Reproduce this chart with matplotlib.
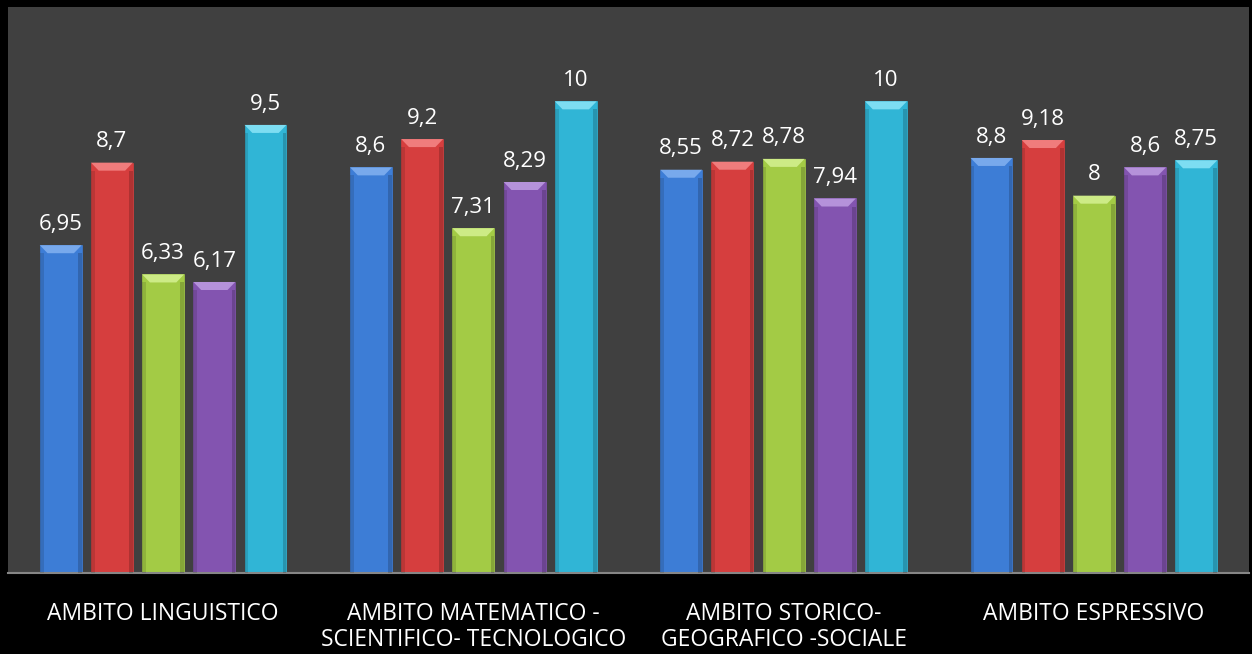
import matplotlib
matplotlib.use("Agg")
import matplotlib.pyplot as plt
from matplotlib.patches import Polygon
import numpy as np

plt.rcParams["font.family"] = ["Open Sans", "DejaVu Sans"]

categories = [
    "AMBITO LINGUISTICO",
    "AMBITO MATEMATICO -\nSCIENTIFICO- TECNOLOGICO",
    "AMBITO STORICO-\nGEOGRAFICO -SOCIALE",
    "AMBITO ESPRESSIVO",
]
series_1 = [6.95, 8.6, 8.55, 8.8]
series_2 = [8.7, 9.2, 8.72, 9.18]
series_3 = [6.33, 7.31, 8.78, 8.0]
series_4 = [6.17, 8.29, 7.94, 8.6]
series_5 = [9.5, 10, 10, 8.75]
series = [series_1, series_2, series_3, series_4, series_5]

COLORS = ["#3D7DD6", "#D63E3E", "#A3CB45", "#8354B0", "#30B5D6"]
TOPS = ["#78A9EC", "#F07C7C", "#CDEB86", "#B592DA", "#7DDDF2"]
BG_COLOR = "#000000"
PLOT_BG = "#404040"


def fmt(v):
    s = f"{v:.2f}".rstrip("0").rstrip(".")
    return s.replace(".", ",")


fig = plt.figure(figsize=(12.52, 6.54), dpi=100)
fig.patch.set_facecolor(BG_COLOR)
ax = fig.add_axes([8 / 1252, 1 - 573 / 654, 1241 / 1252, 566 / 654])
ax.set_facecolor(PLOT_BG)

x = np.arange(len(categories))
width = 0.135
step = 0.165
cap = 0.17
inset = 0.025

for i, (vals, color, top) in enumerate(zip(series, COLORS, TOPS)):
    xs = x + (i - 2) * step
    ax.bar(xs, vals, width=width, color=color, edgecolor=color, linewidth=0.5, zorder=2)
    for xc, v in zip(xs, vals):
        x0, x1 = xc - width / 2, xc + width / 2
        ax.add_patch(Polygon([(x0, v), (x1, v), (x1 - inset, v - cap), (x0 + inset, v - cap)],
                             closed=True, facecolor=top, edgecolor="none", zorder=3))
        ax.bar(x0 + 0.006, v - cap, width=0.012, color="black", alpha=0.12, zorder=3)
        ax.bar(x1 - 0.006, v - cap, width=0.012, color="black", alpha=0.18, zorder=3)
        ax.text(xc, v + 0.22, fmt(v), ha="center", va="bottom", color="white", fontsize=16)

ax.set_xlim(-0.5, len(categories) - 0.5)
ax.set_ylim(0, 12)
ax.set_yticks([])
ax.set_xticks(x)
ax.set_xticklabels(categories, color="white", fontsize=16.5, linespacing=1.1)
ax.tick_params(axis="x", length=0, pad=21)
for name, spine in ax.spines.items():
    spine.set_visible(False)
ax.spines["bottom"].set_visible(True)
ax.spines["bottom"].set_color("#868686")
ax.spines["bottom"].set_linewidth(1.5)

fig.savefig("out.png", dpi=100, facecolor=fig.get_facecolor())
